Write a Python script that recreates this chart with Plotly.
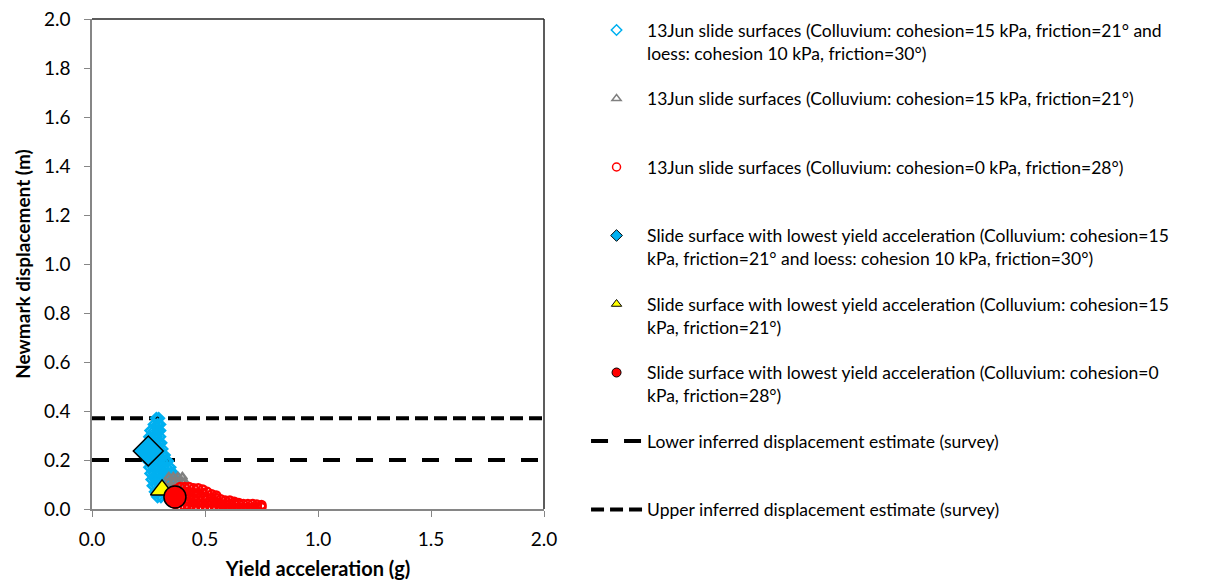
import plotly.graph_objects as go

# Nuages de surfaces de glissement (accélération critique en g, déplacement Newmark en m)
BLUE_ACC = [0.285, 0.295,
            0.275, 0.29, 0.30,
            0.26, 0.275, 0.29, 0.30,
            0.255, 0.27, 0.285, 0.30,
            0.25, 0.265, 0.28, 0.295, 0.305,
            0.25, 0.265, 0.28, 0.295, 0.31,
            0.25, 0.265, 0.28, 0.295, 0.31, 0.32,
            0.25, 0.265, 0.28, 0.295, 0.31, 0.325, 0.335,
            0.255, 0.27, 0.285, 0.30, 0.315, 0.33, 0.345,
            0.26, 0.275, 0.29, 0.305, 0.32, 0.335, 0.35, 0.36,
            0.265, 0.28, 0.295, 0.31, 0.325, 0.34, 0.355, 0.37,
            0.27, 0.285, 0.30, 0.315, 0.33,
            0.28, 0.295, 0.31,
            0.29, 0.305]
BLUE_DISP = [0.37, 0.37,
             0.345, 0.345, 0.345,
             0.32, 0.32, 0.32, 0.32,
             0.295, 0.295, 0.295, 0.295,
             0.27, 0.27, 0.27, 0.27, 0.27,
             0.245, 0.245, 0.245, 0.245, 0.245,
             0.22, 0.22, 0.22, 0.22, 0.22, 0.22,
             0.195, 0.195, 0.195, 0.195, 0.195, 0.195, 0.195,
             0.17, 0.17, 0.17, 0.17, 0.17, 0.17, 0.17,
             0.145, 0.145, 0.145, 0.145, 0.145, 0.145, 0.145, 0.145,
             0.12, 0.12, 0.12, 0.12, 0.12, 0.12, 0.12, 0.12,
             0.095, 0.095, 0.095, 0.095, 0.095,
             0.07, 0.07, 0.07,
             0.05, 0.05]

GRAY_ACC = [0.34, 0.36, 0.38, 0.40,
            0.34, 0.36, 0.38, 0.40, 0.41,
            0.35, 0.37, 0.39,
            0.36, 0.38]
GRAY_DISP = [0.13, 0.13, 0.13, 0.13,
             0.11, 0.11, 0.11, 0.11, 0.11,
             0.09, 0.09, 0.09,
             0.07, 0.07]

RED_ACC = [0.37, 0.37, 0.37, 0.37,
           0.39, 0.39, 0.39, 0.39, 0.39,
           0.41, 0.41, 0.41, 0.41, 0.41,
           0.43, 0.43, 0.43, 0.43, 0.43,
           0.45, 0.45, 0.45, 0.45, 0.45,
           0.47, 0.47, 0.47, 0.47, 0.47,
           0.49, 0.49, 0.49, 0.49, 0.49,
           0.51, 0.51, 0.51, 0.51,
           0.53, 0.53, 0.53, 0.53,
           0.55, 0.55, 0.55, 0.55,
           0.57, 0.57, 0.57,
           0.59, 0.59, 0.59,
           0.61, 0.61, 0.61,
           0.63, 0.63, 0.63,
           0.65, 0.65, 0.65,
           0.67, 0.67,
           0.69, 0.69,
           0.71, 0.71,
           0.73, 0.73,
           0.75, 0.75]
RED_DISP = [0.02, 0.04, 0.06, 0.08,
            0.01, 0.03, 0.05, 0.07, 0.09,
            0.01, 0.03, 0.05, 0.07, 0.09,
            0.01, 0.03, 0.05, 0.07, 0.09,
            0.005, 0.025, 0.045, 0.065, 0.085,
            0.005, 0.025, 0.045, 0.065, 0.085,
            0.005, 0.025, 0.045, 0.065, 0.08,
            0.005, 0.025, 0.045, 0.07,
            0.005, 0.025, 0.045, 0.06,
            0.005, 0.025, 0.045, 0.055,
            0.005, 0.02, 0.04,
            0.005, 0.02, 0.035,
            0.005, 0.02, 0.035,
            0.005, 0.02, 0.03,
            0.005, 0.02, 0.025,
            0.005, 0.02,
            0.005, 0.02,
            0.005, 0.02,
            0.005, 0.018,
            0.008, 0.016]

# Surfaces à plus faible accélération critique
LOWEST_BLUE = (0.249, 0.237)
LOWEST_GRAY = (0.31, 0.078)
LOWEST_RED = (0.367, 0.049)

# Estimations de déplacement (levé)
LINE_ACC = [0.0, 2.0]
LOWER_ESTIMATE = 0.20
UPPER_ESTIMATE = 0.37

X_TICKS = [0.0, 0.5, 1.0, 1.5, 2.0]
Y_TICKS = [0.0, 0.2, 0.4, 0.6, 0.8, 1.0, 1.2, 1.4, 1.6, 1.8, 2.0]

NAMES = [
    "13Jun slide surfaces (Colluvium: cohesion=15 kPa, friction=21° and<br>loess: cohesion 10 kPa, friction=30°)",
    "13Jun slide surfaces (Colluvium: cohesion=15 kPa, friction=21°)<br> ",
    "13Jun slide surfaces (Colluvium: cohesion=0 kPa, friction=28°)<br> ",
    "Slide surface with lowest yield acceleration (Colluvium: cohesion=15<br>kPa, friction=21° and loess: cohesion 10 kPa, friction=30°)",
    "Slide surface with lowest yield acceleration (Colluvium: cohesion=15<br>kPa, friction=21°)",
    "Slide surface with lowest yield acceleration (Colluvium: cohesion=0<br>kPa, friction=28°)",
    "Lower inferred displacement estimate (survey)<br> ",
    "Upper inferred displacement estimate (survey)",
]

BLUE = "#00B0F0"
GRAY = "#808080"
RED = "#FF0000"
YELLOW = "#FFFF00"
FONT = "Lato"

fig = go.Figure()

# lignes en premier (dessinées sous les nuages)
for i, (value, dash) in enumerate(((LOWER_ESTIMATE, "17px,16px"), (UPPER_ESTIMATE, "13px,6px"))):
    fig.add_trace(go.Scatter(
        x=LINE_ACC, y=[value] * len(LINE_ACC), mode="lines",
        line={"color": "black", "width": 4, "dash": dash},
        name=NAMES[6 + i], legendgroup=f"g{6 + i}", legendrank=6 + i,
    ))

clouds = (
    (BLUE_ACC, BLUE_DISP, BLUE, "diamond-open"),
    (GRAY_ACC, GRAY_DISP, GRAY, "triangle-up-open"),
    (RED_ACC, RED_DISP, RED, "circle-open"),
)
for i, (xs, ys, color, symbol) in enumerate(clouds):
    fig.add_trace(go.Scatter(
        x=xs, y=ys, mode="markers", showlegend=False, legendgroup=f"g{i}",
        marker={"symbol": symbol, "size": 8, "color": color, "line": {"color": color, "width": 2.5}},
        hoverinfo="x+y",
    ))
    fig.add_trace(go.Scatter(
        x=[None], y=[None], mode="markers", name=NAMES[i], legendgroup=f"g{i}", legendrank=i,
        marker={"symbol": symbol, "size": 8, "color": color, "line": {"color": color, "width": 1.5}},
    ))

lowest = (
    (LOWEST_BLUE, BLUE, "diamond", 23),
    (LOWEST_GRAY, YELLOW, "triangle-up", 20),
    (LOWEST_RED, RED, "circle", 22),
)
for i, (pt, color, symbol, size) in enumerate(lowest):
    fig.add_trace(go.Scatter(
        x=[pt[0]], y=[pt[1]], mode="markers", showlegend=False, legendgroup=f"g{3 + i}",
        marker={"symbol": symbol, "size": size, "color": color, "line": {"color": "black", "width": 1.5}},
    ))
    fig.add_trace(go.Scatter(
        x=[None], y=[None], mode="markers", name=NAMES[3 + i], legendgroup=f"g{3 + i}", legendrank=3 + i,
        marker={"symbol": symbol, "size": 9, "color": color, "line": {"color": "black", "width": 1}},
    ))

# cadre haut / droite
fig.add_shape(type="line", xref="x domain", yref="y domain", x0=0, x1=1, y0=1, y1=1,
              line={"color": "#262626", "width": 1.5})
fig.add_shape(type="line", xref="x domain", yref="y domain", x0=1, x1=1, y0=0, y1=1,
              line={"color": "#262626", "width": 1.5})

axis_common = dict(
    showgrid=False, zeroline=False, showline=True, linecolor="#868686", linewidth=1.5,
    ticks="outside", ticklen=6, tickcolor="#868686", tickformat=".1f",
    tickfont={"family": FONT, "size": 19, "color": "black"}, ticklabeloverflow="allow",
)
fig.update_xaxes(range=[0, 2], tickvals=X_TICKS, ticklabelstandoff=6,
                 title={"text": "<b>Yield acceleration (g)</b>", "font": {"family": FONT, "size": 20, "color": "black"}, "standoff": 13},
                 **axis_common)
fig.update_yaxes(range=[0, 2], tickvals=Y_TICKS, ticklabelstandoff=10,
                 title={"text": "<b>Newmark displacement (m)</b>", "font": {"family": FONT, "size": 19, "color": "black"}, "standoff": 8},
                 **axis_common)

fig.update_layout(
    width=1198, height=574,
    margin={"l": 84, "r": 662, "t": 11, "b": 73, "autoexpand": False},
    plot_bgcolor="white", paper_bgcolor="white",
    font={"family": FONT, "color": "black"},
    showlegend=True,
    legend={
        "x": 1.093, "y": 1.014, "xanchor": "left", "yanchor": "top",
        "font": {"family": FONT, "size": 17.5, "color": "black"},
        "valign": "top", "tracegroupgap": 20, "itemsizing": "trace", "itemwidth": 51,
        "bgcolor": "rgba(0,0,0,0)", "maxheight": 640,
    },
)

fig.write_html("out.html")
